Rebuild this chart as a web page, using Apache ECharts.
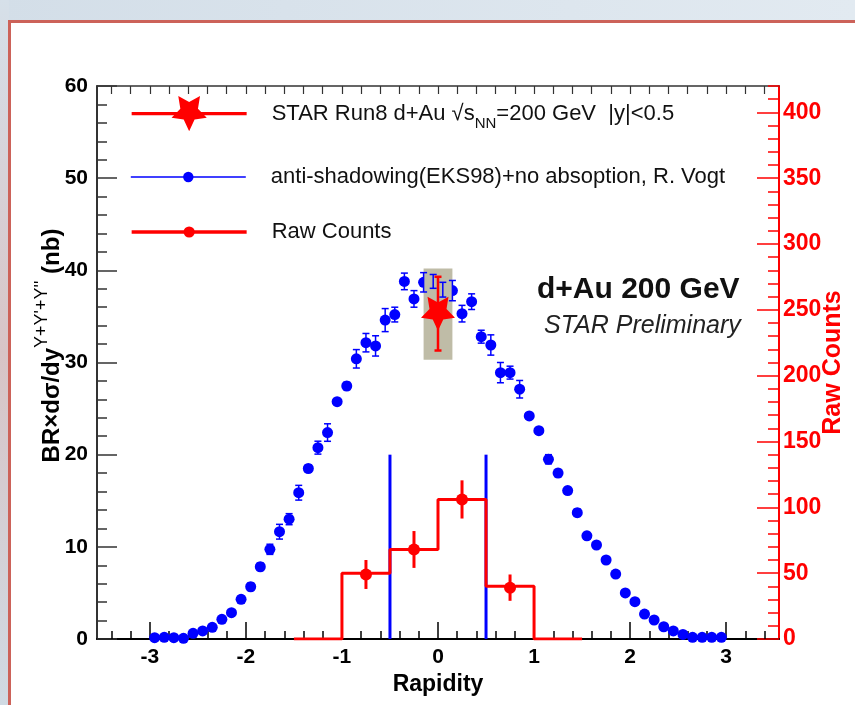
<!DOCTYPE html>
<html>
<head>
<meta charset="utf-8">
<script src="https://cdn.jsdelivr.net/npm/echarts@6/dist/echarts.min.js"></script>
<style>
html,body{margin:0;padding:0;background:#ffffff;}
#chart{width:855px;height:705px;}
</style>
</head>
<body>
<div id="chart"></div>
<script>
// ---------------- data ----------------
const theoryRapidity = [-2.95,-2.85,-2.75,-2.65,-2.55,-2.45,-2.35,-2.25,-2.15,-2.05,
  -1.95,-1.85,-1.75,-1.65,-1.55,-1.45,-1.35,-1.25,-1.15,-1.05,
  -0.95,-0.85,-0.75,-0.65,-0.55,-0.45,-0.35,-0.25,-0.15,-0.05,
  0.05,0.15,0.25,0.35,0.45,0.55,0.65,0.75,0.85,0.95,
  1.05,1.15,1.25,1.35,1.45,1.55,1.65,1.75,1.85,1.95,
  2.05,2.15,2.25,2.35,2.45,2.55,2.65,2.75,2.85,2.95];
const theoryValues = [0.14,0.18,0.14,0.07,0.62,0.87,1.27,2.14,2.85,4.3,
  5.67,7.84,9.73,11.64,13.0,15.87,18.5,20.76,22.4,25.75,
  27.45,30.4,32.15,31.8,34.6,35.2,38.8,36.9,38.7,38.8,
  37.9,37.8,35.3,36.6,32.8,31.9,28.9,28.9,27.1,24.2,
  22.6,19.5,18.0,16.1,13.7,11.2,10.2,8.57,7.05,5.0,
  4.05,2.7,2.06,1.33,0.87,0.5,0.18,0.18,0.18,0.18];
const theoryErrors = [0.1,0.1,0.1,0.1,0.15,0.2,0.2,0.25,0.3,0.35,
  0.4,0.4,0.55,0.8,0.6,0.8,0.4,0.7,0.95,0.3,
  0.4,1.0,1.0,1.1,1.25,0.8,0.9,0.9,1.05,0.75,
  0.8,1.1,0.9,0.85,0.7,1.1,1.1,0.7,0.95,0.3,
  0.3,0.5,0.4,0.35,0.4,0.35,0.35,0.3,0.3,0.3,
  0.3,0.25,0.2,0.2,0.15,0.15,0.1,0.1,0.1,0.1];

const starRapidity = [0];
const starValue = [35.3];
const starStatLow = [31.3];
const starStatHigh = [39.3];
const starSysLow = [30.3];
const starSysHigh = [40.2];
const starSysHalfWidth = 0.15;

const rawBinEdges = [-1.5,-1,-0.5,0,0.5,1,1.5];
const rawBinCounts = [0,50,68,106,40,0];
const rawPointRapidity = [-0.75,-0.25,0.25,0.75];
const rawPointCounts = [49,68,106,39];
const rawPointErrors = [11,14,14.5,10];

const windowEdges = [-0.5,0.5];
const windowTop = [20,20];

const xTickValues = [-3,-2,-1,0,1,2,3];
const leftTickValues = [0,10,20,30,40,50,60];
const rightTickValues = [0,50,100,150,200,250,300,350,400];

const nameStar = 'STAR Run8 d+Au \u221As_NN=200 GeV  |y|<0.5';
const nameTheory = 'anti-shadowing(EKS98)+no absoption, R. Vogt';
const nameRaw = 'Raw Counts';

// ---------------- helpers ----------------
const F = '"Liberation Sans", Arial, Helvetica, sans-serif';
const X_MIN = -3.55, X_MAX = 3.55;
const xMinor = [];
for (let k = -17; k <= 17; k++) xMinor.push(Math.round(k * 0.2 * 100) / 100);
const rightMinor = [];
for (let k = 0; k <= 42; k++) rightMinor.push(k * 10);

const STAR_PATH = 'path://M50 100 L35.3 70.2 L2.45 65.45 L26.2 42.3 L20.6 9.55 L50 25 L79.4 9.55 L73.8 42.3 L97.55 65.45 L64.7 70.2 Z';

function errBar(color, width, capHalf) {
  return function (params, api) {
    const x = api.value(0), lo = api.value(1), hi = api.value(2);
    const a = api.coord([x, lo]), b = api.coord([x, hi]);
    const ch = [{type:'line', shape:{x1:a[0], y1:a[1], x2:b[0], y2:b[1]}, style:{stroke:color, lineWidth:width}}];
    if (capHalf > 0) {
      ch.push({type:'line', shape:{x1:a[0]-capHalf, y1:a[1], x2:a[0]+capHalf, y2:a[1]}, style:{stroke:color, lineWidth:width}});
      ch.push({type:'line', shape:{x1:b[0]-capHalf, y1:b[1], x2:b[0]+capHalf, y2:b[1]}, style:{stroke:color, lineWidth:width}});
    }
    return {type:'group', children:ch};
  };
}

const theoryData = theoryRapidity.map((x, i) => [x, theoryValues[i]]);
const theoryErrData = theoryRapidity.map((x, i) => [x, theoryValues[i] - theoryErrors[i], theoryValues[i] + theoryErrors[i]]);
const starData = starRapidity.map((x, i) => [x, starValue[i]]);
const starErrData = starRapidity.map((x, i) => [x, starStatLow[i], starStatHigh[i]]);
const starSysData = starRapidity.map((x, i) => [x, starSysLow[i], starSysHigh[i]]);
const rawStepData = rawBinCounts.map((c, i) => [rawBinEdges[i], c]).concat([[rawBinEdges[rawBinEdges.length - 1], rawBinCounts[rawBinCounts.length - 1]]]);
const rawPointData = rawPointRapidity.map((x, i) => [x, rawPointCounts[i]]);
const rawErrData = rawPointRapidity.map((x, i) => [x, rawPointCounts[i] - rawPointErrors[i], rawPointCounts[i] + rawPointErrors[i]]);
const windowData = windowEdges.map((x, i) => [x, 0, windowTop[i]]);

const chart = echarts.init(document.getElementById('chart'), null, {renderer:'canvas'});

const legendText = {fontSize:22, color:'#111', fontFamily:F, padding:[0,0,0,20]};

const option = {
  animation:false,
  backgroundColor:'#ffffff',
  grid:{left:97, right:76, top:86, bottom:66, containLabel:false, outerBoundsMode:'none'},
  legend:[
    {data:[nameStar], left:130, top:96, padding:0, itemWidth:115, itemHeight:44, selectedMode:false,
     lineStyle:{width:3.3, color:'#ff0000', opacity:1, type:'solid'},
     textStyle:Object.assign({}, legendText, {rich:{sub:{fontSize:15, color:'#111', fontFamily:F, padding:[20,0,0,0]}}}),
     formatter:function(){ return 'STAR Run8 d+Au \u221As{sub|NN}=200 GeV  |y|<0.5'; }},
    {data:[nameTheory], left:130, top:166, padding:0, itemWidth:115, itemHeight:13, selectedMode:false,
     lineStyle:{width:1.6, color:'#0000ff', opacity:1, type:'solid'}, textStyle:legendText},
    {data:[nameRaw], left:130, top:221, padding:0, itemWidth:115, itemHeight:14, selectedMode:false,
     lineStyle:{width:3.3, color:'#ff0000', opacity:1, type:'solid'}, textStyle:legendText}
  ],
  xAxis:[
    {type:'value', min:X_MIN, max:X_MAX, position:'bottom',
     axisLine:{show:true, onZero:false, lineStyle:{color:'#000', width:2}},
     axisTick:{show:true, inside:true, length:17, customValues:xTickValues, lineStyle:{color:'#000', width:1.5}},
     axisLabel:{show:true, customValues:xTickValues, fontSize:21, fontWeight:'bold', color:'#000', fontFamily:F, margin:8},
     splitLine:{show:false},
     name:'Rapidity', nameLocation:'middle', nameGap:33,
     nameTextStyle:{fontSize:23, fontWeight:'bold', color:'#000', fontFamily:F}},
    {type:'value', min:X_MIN, max:X_MAX, position:'bottom',
     axisLine:{show:false, onZero:false},
     axisTick:{show:true, inside:true, length:8, customValues:xMinor, lineStyle:{color:'#000', width:1.5}},
     axisLabel:{show:false}, splitLine:{show:false}},
    {type:'value', min:X_MIN, max:X_MAX, position:'top',
     axisLine:{show:true, onZero:false, lineStyle:{color:'#333', width:1.5}},
     axisTick:{show:true, inside:true, length:8, customValues:xMinor, lineStyle:{color:'#333', width:1.2}},
     axisLabel:{show:false}, splitLine:{show:false}}
  ],
  yAxis:[
    {type:'value', min:0, max:60, interval:10, position:'left',
     axisLine:{show:true, onZero:false, lineStyle:{color:'#333', width:2}},
     axisTick:{show:true, inside:true, length:20, lineStyle:{color:'#333', width:1.5}},
     minorTick:{show:true, splitNumber:5, length:10, lineStyle:{color:'#333', width:1.5}},
     axisLabel:{fontSize:21, fontWeight:'bold', color:'#000', fontFamily:F, margin:9},
     splitLine:{show:false}, minorSplitLine:{show:false},
     name:'{a|BR\u00D7d\u03C3/dy}{s|\u03A5+\u03A5\'+\u03A5\'\'}{a| (nb)}',
     nameLocation:'middle', nameRotate:90, nameGap:33, nameMoveOverlap:false,
     nameTextStyle:{padding:[0,0,0,34], rich:{
       a:{fontSize:24, fontWeight:'bold', color:'#000', fontFamily:F, padding:[7,0,0,0]},
       s:{fontSize:18, color:'#000', fontFamily:F, verticalAlign:'top'}}}},
    {type:'value', min:0, max:420, position:'right',
     axisLine:{show:true, onZero:false, lineStyle:{color:'#ff0000', width:2}},
     axisTick:{show:true, inside:true, length:22, customValues:rightTickValues, lineStyle:{color:'#ff0000', width:1.5}},
     axisLabel:{show:true, customValues:rightTickValues, fontSize:23, fontWeight:'bold', color:'#ff0000', fontFamily:F, margin:4},
     splitLine:{show:false},
     name:'Raw Counts', nameLocation:'middle', nameRotate:90, nameGap:42, nameMoveOverlap:false,
     nameTextStyle:{fontSize:25, fontWeight:'bold', color:'#ff0000', fontFamily:F}},
    {type:'value', min:0, max:420, position:'right',
     axisLine:{show:false, onZero:false},
     axisTick:{show:true, inside:true, length:11, customValues:rightMinor, lineStyle:{color:'#ff0000', width:1.5}},
     axisLabel:{show:false}, splitLine:{show:false}}
  ],
  graphic:[
    {type:'rect', z:-10, shape:{x:0, y:0, width:855, height:20},
     style:{fill:new echarts.graphic.LinearGradient(0,0,1,0,[{offset:0,color:'#d3dee8'},{offset:1,color:'#e2eaf1'}])}},
    {type:'rect', z:-10, shape:{x:0, y:0, width:9, height:705},
     style:{fill:new echarts.graphic.LinearGradient(0,0,0,1,[{offset:0,color:'#d6e0e9'},{offset:0.5,color:'#d8c4c6'},{offset:1,color:'#d0dae3'}])}},
    {type:'polyline', z:-5, shape:{points:[[9.5,705],[9.5,21.5],[855,21.5]]},
     style:{stroke:'#cc6259', lineWidth:3, fill:null}},
    {type:'text', x:537, y:290, z:10,
     style:{text:'d+Au 200 GeV', font:'bold 30px ' + F, fill:'#111', verticalAlign:'middle', align:'left'}},
    {type:'text', x:544, y:326, z:10,
     style:{text:'STAR Preliminary', font:'italic 25px ' + F, fill:'#222', verticalAlign:'middle', align:'left'}}
  ],
  series:[
    {name:nameTheory, type:'line', xAxisIndex:0, yAxisIndex:0, data:theoryData,
     symbol:'circle', symbolSize:11, itemStyle:{color:'#0000ff'},
     lineStyle:{opacity:0, width:0}, z:2},
    {name:'sysbox', type:'custom', xAxisIndex:0, yAxisIndex:0, data:starSysData, z:3,
     renderItem:function(params, api){
       const x = api.value(0);
       const a = api.coord([x - starSysHalfWidth, api.value(2)]);
       const b = api.coord([x + starSysHalfWidth, api.value(1)]);
       return {type:'rect', shape:{x:a[0], y:a[1], width:b[0]-a[0], height:b[1]-a[1]}, style:{fill:'#bfbca7'}};
     }},
    {name:'theoryErr', type:'custom', xAxisIndex:0, yAxisIndex:0, data:theoryErrData, z:4,
     renderItem:errBar('#0000ff', 1.5, 3.5)},
    {name:'window', type:'custom', xAxisIndex:0, yAxisIndex:0, data:windowData, z:4,
     renderItem:errBar('#0000ff', 3, 0)},
    {name:'rawStep', type:'line', xAxisIndex:0, yAxisIndex:1, data:rawStepData, step:'end',
     showSymbol:false, symbol:'none', lineStyle:{color:'#ff0000', width:3}, z:4},
    {name:'rawErr', type:'custom', xAxisIndex:0, yAxisIndex:1, data:rawErrData, z:5,
     renderItem:errBar('#ff0000', 3, 0)},
    {name:nameRaw, type:'line', xAxisIndex:0, yAxisIndex:1, data:rawPointData,
     symbol:'circle', symbolSize:12, itemStyle:{color:'#ff0000'}, lineStyle:{opacity:0, width:0}, z:6},
    {name:'starErr', type:'custom', xAxisIndex:0, yAxisIndex:0, data:starErrData, z:6,
     renderItem:errBar('#ff0000', 2.5, 3.5)},
    {name:nameStar, type:'line', xAxisIndex:0, yAxisIndex:0, data:starData,
     symbol:STAR_PATH, symbolSize:34, itemStyle:{color:'#ff0000'}, lineStyle:{opacity:0, width:0}, z:7}
  ]
};
chart.setOption(option);
</script>
</body>
</html>
